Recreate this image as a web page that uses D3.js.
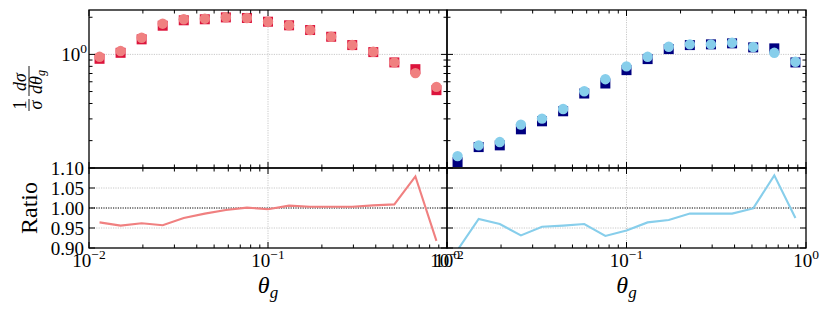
<!DOCTYPE html>
<html><head><meta charset="utf-8">
<script src="https://cdn.jsdelivr.net/npm/d3@7"></script>
<style>
body{margin:0;background:#fff}
text{font-family:"Liberation Serif","DejaVu Serif",serif;fill:#000}
</style>
</head><body>
<svg id="c" width="830" height="313"></svg>
<script>
// ---- data ----
const thetaG = [0.011451, 0.015013, 0.019683, 0.025806, 0.033834, 0.044359, 0.058158, 0.076249, 0.1,
                0.131113, 0.171898, 0.225373, 0.295483, 0.387401, 0.507914, 0.665916, 0.873072];
const leftSquares  = [0.921, 1.030, 1.324, 1.708, 1.890, 1.926, 1.995, 1.973, 1.841, 1.721, 1.576, 1.390, 1.190, 1.044, 0.861, 0.759, 0.513];
const leftCircles  = [0.956, 1.064, 1.364, 1.774, 1.926, 1.947, 1.999, 1.973, 1.841, 1.721, 1.576, 1.390, 1.190, 1.050, 0.861, 0.705, 0.545];
const leftRatio    = [0.964, 0.956, 0.962, 0.957, 0.975, 0.986, 0.995, 1.001, 0.997, 1.006, 1.003, 1.003, 1.003, 1.0065, 1.009, 1.079, 0.918];
const rightSquares = [0.1339, 0.1773, 0.1831, 0.2470, 0.2869, 0.3459, 0.4818, 0.5809, 0.7454, 0.916, 1.104, 1.190, 1.206, 1.229, 1.140, 1.119, 0.861];
const rightCircles = [0.1498, 0.1831, 0.1947, 0.2698, 0.3018, 0.3612, 0.5030, 0.6296, 0.7990, 0.956, 1.153, 1.206, 1.206, 1.243, 1.147, 1.030, 0.871];
const rightRatio   = [0.895, 0.9725, 0.960, 0.9315, 0.953, 0.956, 0.960, 0.930, 0.944, 0.964, 0.970, 0.986, 0.986, 0.986, 0.999, 1.0815, 0.975];
const xMajorTicks = [0.01, 0.1, 1];
const xTickExps = ["\u22122", "\u22121", "0"];
const yMajorTicks = [1];
const yTickExps = ["0"];
const ratioTicks = [0.90, 0.95, 1.00, 1.05, 1.10];
const ratioTickLabels = ["0.90", "0.95", "1.00", "1.05", "1.10"];

const svg = d3.select("#c");
const panels = [
  {x0: 89, x1: 447, sq: leftSquares, ci: leftCircles, ratio: leftRatio, sqColor: "#DC143C", ciColor: "#F08080", labels: true},
  {x0: 447, x1: 806, sq: rightSquares, ci: rightCircles, ratio: rightRatio, sqColor: "#000080", ciColor: "#87CEEB", labels: false}
];
const topY0 = 10, topY1 = 168, rY0 = 168, rY1 = 248;
const yTop = d3.scaleLog().domain([0.12, 2.29]).range([topY1, topY0]);
const yR = d3.scaleLinear().domain([0.90, 1.10]).range([rY1, rY0]);

function minorLog(domain) {
  const out = [];
  for (let e = -3; e <= 1; e++) for (let m = 2; m <= 9; m++) {
    const v = m * Math.pow(10, e);
    if (v > domain[0] && v < domain[1]) out.push(v);
  }
  return out;
}
const gridStyle = s => s.attr("stroke", "#bbbbbb").attr("stroke-width", 0.8).attr("stroke-dasharray", "1.2,1.2");

panels.forEach((p, pi) => {
  const x = d3.scaleLog().domain([0.01, 1]).range([p.x0, p.x1]);
  const clipId = "clip" + pi;
  svg.append("clipPath").attr("id", clipId).append("rect")
    .attr("x", p.x0).attr("y", rY0).attr("width", p.x1 - p.x0).attr("height", rY1 - rY0);

  // grids
  const g = svg.append("g");
  g.append("line").attr("x1", x(0.1)).attr("x2", x(0.1)).attr("y1", topY0).attr("y2", topY1).call(gridStyle);
  g.append("line").attr("x1", p.x0).attr("x2", p.x1).attr("y1", yTop(1)).attr("y2", yTop(1)).call(gridStyle);
  g.append("line").attr("x1", x(0.1)).attr("x2", x(0.1)).attr("y1", rY0).attr("y2", rY1).call(gridStyle);
  [0.95, 1.05].forEach(v => g.append("line").attr("x1", p.x0).attr("x2", p.x1).attr("y1", yR(v)).attr("y2", yR(v)).call(gridStyle));
  g.append("line").attr("x1", p.x0).attr("x2", p.x1).attr("y1", yR(1)).attr("y2", yR(1))
    .attr("stroke", "#000").attr("stroke-width", 1).attr("stroke-dasharray", "1.2,1.2");

  // markers
  const m = svg.append("g");
  m.selectAll("rect.sq").data(thetaG).join("rect").attr("class", "sq")
    .attr("x", (d, i) => x(d) - 5).attr("y", (d, i) => yTop(p.sq[i]) - 5)
    .attr("width", 10).attr("height", 10).attr("fill", p.sqColor);
  m.selectAll("circle").data(thetaG).join("circle")
    .attr("cx", d => x(d)).attr("cy", (d, i) => yTop(p.ci[i])).attr("r", 5.2).attr("fill", p.ciColor);

  // ratio line
  const line = d3.line().x((d, i) => x(thetaG[i])).y(d => yR(d));
  svg.append("path").datum(p.ratio).attr("d", line).attr("fill", "none")
    .attr("stroke", p.ciColor).attr("stroke-width", 2.1).attr("clip-path", `url(#${clipId})`);

  // frames
  [[topY0, topY1], [rY0, rY1]].forEach(([a, b]) => {
    svg.append("rect").attr("x", p.x0).attr("y", a).attr("width", p.x1 - p.x0).attr("height", b - a)
      .attr("fill", "none").attr("stroke", "#000").attr("stroke-width", 1.3);
  });

  // ticks (inward, all sides)
  const xMinor = minorLog([0.01, 1]);
  const tickG = svg.append("g").attr("stroke", "#000").attr("stroke-width", 1);
  [[topY0, topY1], [rY0, rY1]].forEach(([a, b]) => {
    xMajorTicks.forEach(v => {
      tickG.append("line").attr("x1", x(v)).attr("x2", x(v)).attr("y1", b).attr("y2", b - 6);
      tickG.append("line").attr("x1", x(v)).attr("x2", x(v)).attr("y1", a).attr("y2", a + 6);
    });
    xMinor.forEach(v => {
      tickG.append("line").attr("x1", x(v)).attr("x2", x(v)).attr("y1", b).attr("y2", b - 3.5);
      tickG.append("line").attr("x1", x(v)).attr("x2", x(v)).attr("y1", a).attr("y2", a + 3.5);
    });
  });
  const yMinor = minorLog(yTop.domain());
  yMajorTicks.forEach(v => {
    tickG.append("line").attr("x1", p.x0).attr("x2", p.x0 + 6).attr("y1", yTop(v)).attr("y2", yTop(v));
    tickG.append("line").attr("x1", p.x1).attr("x2", p.x1 - 6).attr("y1", yTop(v)).attr("y2", yTop(v));
  });
  yMinor.forEach(v => {
    tickG.append("line").attr("x1", p.x0).attr("x2", p.x0 + 3.5).attr("y1", yTop(v)).attr("y2", yTop(v));
    tickG.append("line").attr("x1", p.x1).attr("x2", p.x1 - 3.5).attr("y1", yTop(v)).attr("y2", yTop(v));
  });
  ratioTicks.forEach(v => {
    tickG.append("line").attr("x1", p.x0).attr("x2", p.x0 + 6).attr("y1", yR(v)).attr("y2", yR(v));
    tickG.append("line").attr("x1", p.x1).attr("x2", p.x1 - 6).attr("y1", yR(v)).attr("y2", yR(v));
  });

  // x tick labels
  xMajorTicks.forEach((v, i) => {
    const t = svg.append("text").attr("x", x(v)).attr("y", 267).attr("text-anchor", "middle").attr("font-size", 19);
    t.append("tspan").text("10");
    t.append("tspan").attr("dy", -8).attr("font-size", 13.5).text(xTickExps[i]);
  });
  // x axis label
  const xl = svg.append("text").attr("x", x(0.1)).attr("y", 293).attr("text-anchor", "middle").attr("font-size", 24);
  xl.append("tspan").attr("font-style", "italic").text("\u03B8");
  xl.append("tspan").attr("font-style", "italic").attr("font-size", 17).attr("dy", 5).text("g");

  if (p.labels) {
    yMajorTicks.forEach((v, i) => {
      const t = svg.append("text").attr("x", p.x0 - 2).attr("y", yTop(v) + 7).attr("text-anchor", "end").attr("font-size", 19);
      t.append("tspan").text("10");
      t.append("tspan").attr("dy", -8).attr("font-size", 13.5).text(yTickExps[i]);
    });
    ratioTicks.forEach((v, i) => {
      svg.append("text").attr("x", p.x0 - 5).attr("y", yR(v) + 6.5).attr("text-anchor", "end")
        .attr("font-size", 19).text(ratioTickLabels[i]);
    });
  }
});

// y labels
svg.append("text").attr("transform", "translate(37,208) rotate(-90)").attr("text-anchor", "middle")
  .attr("font-size", 24).text("Ratio");

const fl = svg.append("g").attr("transform", "translate(29,88) rotate(-90)");
const fs = 18;
// first fraction: 1 / sigma
fl.append("text").attr("x", -17).attr("y", -3).attr("text-anchor", "middle").attr("font-size", fs).text("1");
fl.append("line").attr("x1", -23).attr("x2", -11).attr("y1", 0).attr("y2", 0).attr("stroke", "#000").attr("stroke-width", 0.9);
fl.append("text").attr("x", -17).attr("y", 13).attr("text-anchor", "middle").attr("font-size", fs).attr("font-style", "italic").text("\u03C3");
// second fraction: d sigma / d theta_g
fl.append("text").attr("x", 6).attr("y", -3).attr("text-anchor", "middle").attr("font-size", fs).attr("font-style", "italic").text("d\u03C3");
fl.append("line").attr("x1", -8).attr("x2", 22).attr("y1", 0).attr("y2", 0).attr("stroke", "#000").attr("stroke-width", 0.9);
const den = fl.append("text").attr("x", 6).attr("y", 13).attr("text-anchor", "middle").attr("font-size", fs).attr("font-style", "italic");
den.append("tspan").text("d\u03B8");
den.append("tspan").attr("font-size", 12).attr("dy", 3).text("g");
</script>
</body></html>
